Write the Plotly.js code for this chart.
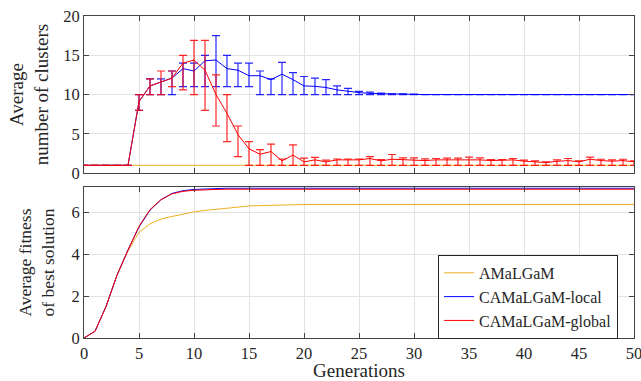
<!DOCTYPE html>
<html>
<head>
<meta charset="utf-8">
<script src="https://cdn.plot.ly/plotly-3.0.1.min.js"></script>
<style>html,body{margin:0;padding:0;background:#fff;}#chart{width:641px;height:381px;}</style>
</head>
<body>
<div id="chart"></div>
<script>
const generations = [0,1,2,3,4,5,6,7,8,9,10,11,12,13,14,15,16,17,18,19,20,21,22,23,24,25,26,27,28,29,30,31,32,33,34,35,36,37,38,39,40,41,42,43,44,45,46,47,48,49,50];
const seriesNames = ["AMaLGaM", "CAMaLGaM-local", "CAMaLGaM-global"];

// Top panel: average number of clusters
const clustersAMaLGaM = [1,1,1,1,1,1,1,1,1,1,1,1,1,1,1,1,1,1,1,1,1,1,1,1,1,1,1,1,1,1,1,1,1,1,1,1,1,1,1,1,1,1,1,1,1,1,1,1,1,1,1];
const clustersLocal = [1,1,1,1,1, 9.1,11.1,11.6,12.1,13.3, 13.0,14.3,14.4,13.3,13.1, 12.4,12.4,11.9,12.6,11.9, 11.1,11.05,10.9,10.6,10.4, 10.25,10.15,10.1,10.06,10.04, 10.02,10,10,10,10, 10,10,10,10,10, 10,10,10,10,10, 10,10,10,10,10, 10];
const clustersLocalUpper = [1,1,1,1,1, 10,12,12,13,14, 14,15,17.5,15,14, 14,13,12,14.1,12.8, 12.3,12.1,11.9,11.1,10.8, 10.4,10.3,10.2,10.1,10.1, 10.05,10,10,10,10, 10,10,10,10,10, 10,10,10,10,10, 10,10,10,10,10, 10];
const clustersLocalLower = [1,1,1,1,1, 8,10,10,10,11, 11,11,11,11,11, 11,10,10,10,10, 10,10,10,10,10, 10,10,10,10,10, 10,10,10,10,10, 10,10,10,10,10, 10,10,10,10,10, 10,10,10,10,10, 10];
const clustersGlobal = [1,1,1,1,1, 9.1,11.1,11.6,12.1,14.0, 14.4,13.1,10.0,7.6,4.9, 3.1,2.4,2.75,1.56,2.3, 1.43,1.69,1.43,1.69,1.69, 1.69,1.86,1.56,1.77,1.69, 1.69,1.6,1.69,1.69,1.69, 1.77,1.69,1.6,1.6,1.69, 1.52,1.44,1.35,1.5,1.6, 1.44,1.77,1.6,1.52,1.6, 1.44];
const clustersGlobalUpper = [1,1,1,1,1, 10,12,13,13,15, 16.9,16.9,12.5,10,6, 4,3,3.7,1.8,3.6, 1.9,2.0,1.65,1.8,1.8, 1.8,2.11,1.73,2.37,1.94, 1.94,1.82,1.86,1.9,1.9, 2.03,1.94,1.73,1.73,1.86, 1.65,1.56,1.44,1.7,1.86, 1.56,2.03,1.77,1.7,1.77, 1.56];
const clustersGlobalLower = [1,1,1,1,1, 8,10,10,11,10.6, 10,8,6,4,2.1, 1,1,1,1,1, 1,1,1,1,1, 1,1,1,1,1, 1,1,1,1,1, 1,1,1,1,1, 1,1,1,1,1, 1,1,1,1,1, 1];

// Bottom panel: average fitness of best solution
const fitnessAMaLGaM = [0,0.32,1.5,3.0,4.15, 5.05,5.45,5.68,5.8,5.92, 6.02,6.09,6.15,6.21,6.26, 6.3,6.32,6.34,6.35,6.36, 6.37,6.37,6.37,6.37,6.37, 6.37,6.37,6.37,6.37,6.37, 6.37,6.37,6.37,6.37,6.37, 6.37,6.37,6.37,6.37,6.37, 6.37,6.37,6.37,6.37,6.37, 6.37,6.37,6.37,6.37,6.37, 6.37];
const fitnessLocal = [0,0.32,1.5,3.0,4.2, 5.3,6.1,6.6,6.9,7.03, 7.09,7.12,7.14,7.15,7.15, 7.15,7.15,7.15,7.15,7.15, 7.15,7.15,7.15,7.15,7.15, 7.15,7.15,7.15,7.15,7.15, 7.15,7.15,7.15,7.15,7.15, 7.15,7.15,7.15,7.15,7.15, 7.15,7.15,7.15,7.15,7.15, 7.15,7.15,7.15,7.15,7.15, 7.15];
const fitnessGlobal = [0,0.32,1.5,3.0,4.2, 5.33,6.13,6.6,6.88,7.0, 7.05,7.08,7.09,7.1,7.1, 7.1,7.1,7.1,7.1,7.1, 7.1,7.1,7.1,7.1,7.1, 7.1,7.1,7.1,7.1,7.1, 7.1,7.1,7.1,7.1,7.1, 7.1,7.1,7.1,7.1,7.1, 7.1,7.1,7.1,7.1,7.1, 7.1,7.1,7.1,7.1,7.1, 7.1];

const xTickVals = [0,5,10,15,20,25,30,35,40,45,50];
const colors = ["#EDB120", "#0000FF", "#FF0000"];

const font = "Liberation Serif";
const up = (v, u) => u.map((x, i) => x - v[i]);
const dn = (v, l) => v.map((x, i) => x - l[i]);

const traces = [
  {x: generations, y: fitnessAMaLGaM, xaxis: 'x', yaxis: 'y', mode: 'lines', name: seriesNames[0], line: {color: colors[0], width: 1}},
  {x: generations, y: fitnessLocal, xaxis: 'x', yaxis: 'y', mode: 'lines', name: seriesNames[1], line: {color: colors[1], width: 1}},
  {x: generations, y: fitnessGlobal, xaxis: 'x', yaxis: 'y', mode: 'lines', name: seriesNames[2], line: {color: colors[2], width: 1}},
  {x: generations, y: clustersAMaLGaM, xaxis: 'x2', yaxis: 'y2', mode: 'lines', showlegend: false, line: {color: colors[0], width: 1}},
  {x: generations, y: clustersLocal, xaxis: 'x2', yaxis: 'y2', mode: 'lines', showlegend: false, line: {color: colors[1], width: 1},
   error_y: {type: 'data', symmetric: false, array: up(clustersLocal, clustersLocalUpper), arrayminus: dn(clustersLocal, clustersLocalLower), color: 'rgba(0,0,255,0.85)', thickness: 1.2, width: 4}},
  {x: generations, y: clustersGlobal, xaxis: 'x2', yaxis: 'y2', mode: 'lines', showlegend: false, line: {color: colors[2], width: 1},
   error_y: {type: 'data', symmetric: false, array: up(clustersGlobal, clustersGlobalUpper), arrayminus: dn(clustersGlobal, clustersGlobalLower), color: 'rgba(255,0,0,0.85)', thickness: 1.2, width: 4}}
];

function axisCommon() {
  return {
    showline: true, linecolor: '#444', linewidth: 1, mirror: 'ticks',
    ticks: 'inside', ticklen: 5, tickcolor: '#444',
    showgrid: true, gridcolor: '#e3e3e3', gridwidth: 1, zeroline: false,
    ticklabeloverflow: 'allow',
    tickfont: {family: font, size: 16.5, color: '#262626'}
  };
}

const layout = {
  width: 641, height: 381,
  margin: {l: 84, r: 7, t: 16, b: 43},
  paper_bgcolor: '#fff', plot_bgcolor: '#fff',
  font: {family: font, color: '#262626', size: 17},
  showlegend: true,
  legend: {x: 0.971, xanchor: 'right', y: 0.258, yanchor: 'top', bgcolor: '#fff', bordercolor: '#262626', borderwidth: 1,
           font: {family: font, size: 16, color: '#262626'}, tracegroupgap: 0},
  xaxis: Object.assign(axisCommon(), {anchor: 'y', range: [0, 50], tickvals: xTickVals,
           title: {text: 'Generations', font: {family: font, size: 19, color: '#262626'}, standoff: 6}}),
  yaxis: Object.assign(axisCommon(), {domain: [0, 0.4685], range: [0, 7.2], tickvals: [0,2,4,6],
           title: {text: 'Average fitness<br>of best solution', font: {family: font, size: 17.5, color: '#262626'}, standoff: 12}}),
  xaxis2: Object.assign(axisCommon(), {anchor: 'y2', range: [0, 50], tickvals: xTickVals, showticklabels: false}),
  yaxis2: Object.assign(axisCommon(), {domain: [0.512, 1], range: [0, 20], tickvals: [0,5,10,15,20],
           title: {text: 'Average<br>number of clusters', font: {family: font, size: 19, color: '#262626'}, standoff: 9}})
};

Plotly.newPlot('chart', traces, layout, {staticPlot: true, displayModeBar: false});
</script>
</body>
</html>
